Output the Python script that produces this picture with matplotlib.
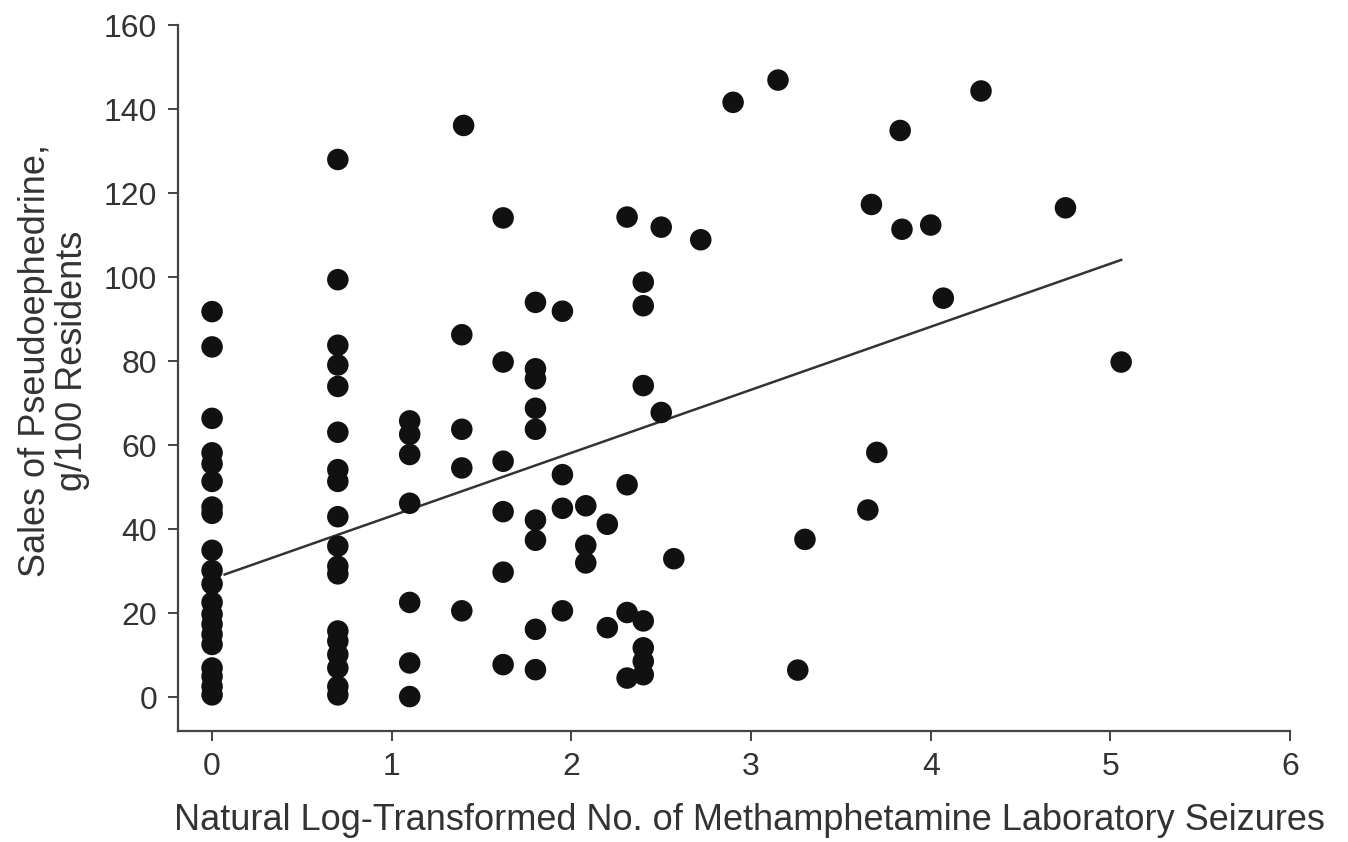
import matplotlib
matplotlib.use("Agg")
import matplotlib.pyplot as plt
import numpy as np

plt.rcParams["font.family"] = ["Liberation Sans", "DejaVu Sans"]

# natural log-transformed lab seizures (x) and pseudoephedrine sales (y)
x_col0 = [0.0] * 20
y_col0 = [91.8, 83.4, 66.4, 58.2, 55.6, 51.4, 45.3, 43.8, 35.0, 30.2,
          27.0, 22.6, 19.8, 17.4, 15.0, 12.6, 7.0, 5.0, 2.6, 0.6]

x_col1 = [0.70] * 18
y_col1 = [128.0, 99.4, 83.8, 79.1, 74.0, 63.1, 54.2, 51.4, 43.0, 36.0,
          31.2, 29.4, 15.8, 13.4, 10.2, 7.0, 2.6, 0.6]

x_col2 = [1.10] * 7
y_col2 = [65.8, 62.6, 57.8, 46.2, 22.6, 8.2, 0.2]

x_rest = [1.40, 1.39, 1.39, 1.39, 1.39,
          1.62, 1.62, 1.62, 1.62, 1.62, 1.62,
          1.80, 1.80, 1.80, 1.80, 1.80, 1.80, 1.80, 1.80, 1.80,
          1.95, 1.95, 1.95, 1.95,
          2.08, 2.08, 2.08,
          2.20, 2.20,
          2.31, 2.31, 2.31, 2.31,
          2.40, 2.40, 2.40, 2.40, 2.40, 2.40, 2.40,
          2.50, 2.50, 2.57, 2.72, 2.90, 3.15, 3.26, 3.30,
          3.65, 3.67, 3.70, 3.83, 3.84, 4.00, 4.07, 4.28, 4.75, 5.06]
y_rest = [136.1, 86.3, 63.8, 54.6, 20.6,
          114.1, 79.8, 56.2, 44.2, 29.8, 7.8,
          94.0, 78.2, 75.8, 68.8, 63.8, 42.2, 37.4, 16.2, 6.6,
          91.9, 53.0, 45.0, 20.6,
          45.6, 36.2, 32.0,
          41.2, 16.6,
          114.3, 50.6, 20.2, 4.6,
          98.8, 93.2, 74.2, 18.2, 11.8, 8.6, 5.4,
          111.9, 67.8, 33.0, 108.9, 141.6, 146.9, 6.5, 37.6,
          44.6, 117.3, 58.3, 134.9, 111.4, 112.4, 95.0, 144.3, 116.5, 79.8]

x = np.array(x_col0 + x_col1 + x_col2 + x_rest)
y = np.array(y_col0 + y_col1 + y_col2 + y_rest)

# fitted line as drawn in the figure
fit_intercept = 28.2
fit_slope = 15.0
fit_x = np.array([0.07, 5.06])

fig = plt.figure(figsize=(13.48, 8.42), dpi=100)
ax = fig.add_axes([0.132, 0.1318, 0.825, 0.8385])

ax.scatter(x, y, s=240, color="#111111", edgecolors="none", zorder=3)
ax.plot(fit_x, fit_intercept + fit_slope * fit_x, color="#333333", lw=1.8, zorder=2)

ax.set_xlim(-0.19, 6)
ax.set_ylim(-8, 160)
ax.set_xticks(range(0, 7))
ax.set_yticks(range(0, 161, 20))

for side in ["top", "right"]:
    ax.spines[side].set_visible(False)
for side in ["left", "bottom"]:
    ax.spines[side].set_color("#444444")
    ax.spines[side].set_linewidth(1.6)

ax.tick_params(direction="out", length=7, width=1.4, color="#444444",
               labelsize=23, labelcolor="#333333", pad=8)

fig.text(0.556, 0.026, "Natural Log-Transformed No. of Methamphetamine Laboratory Seizures",
         ha="center", va="center", fontsize=26, color="#333333")
fig.text(0.040, 0.572, "Sales of Pseudoephedrine,\ng/100 Residents",
         ha="center", va="center", rotation=90, multialignment="center",
         fontsize=26, color="#333333", linespacing=1.1)

fig.savefig("out.png", dpi=100)
